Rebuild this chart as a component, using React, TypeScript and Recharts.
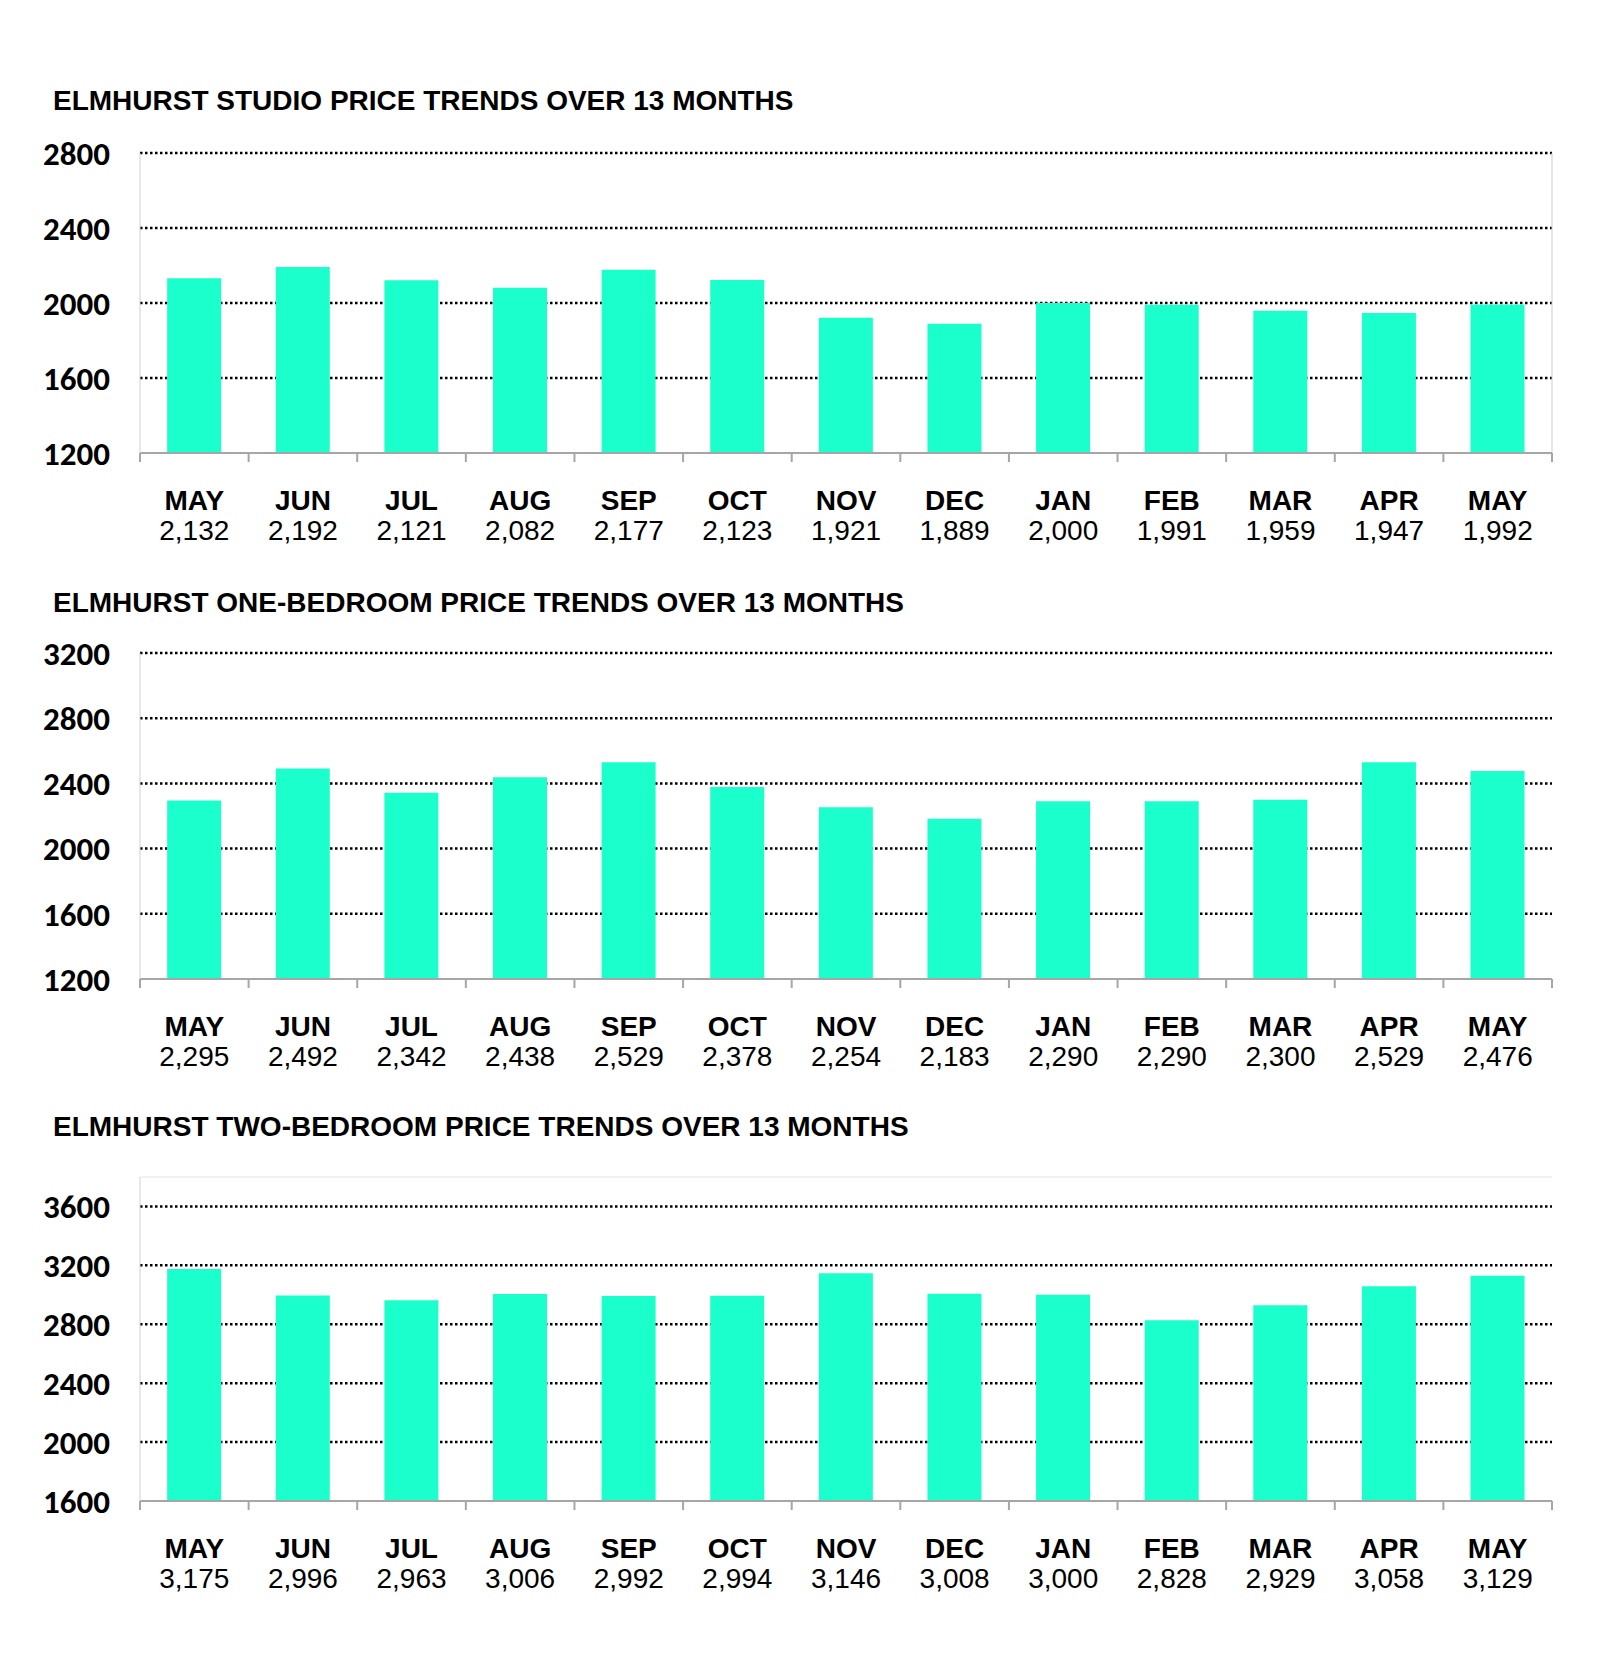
import React from "react";
import { BarChart, Bar, XAxis, YAxis, CartesianGrid, ReferenceLine } from "recharts";

const MONTHS = ["MAY", "JUN", "JUL", "AUG", "SEP", "OCT", "NOV", "DEC", "JAN", "FEB", "MAR", "APR", "MAY"];

const STUDIO = [2132, 2192, 2121, 2082, 2177, 2123, 1921, 1889, 2000, 1991, 1959, 1947, 1992];
const ONE_BED = [2295, 2492, 2342, 2438, 2529, 2378, 2254, 2183, 2290, 2290, 2300, 2529, 2476];
const TWO_BED = [3175, 2996, 2963, 3006, 2992, 2994, 3146, 3008, 3000, 2828, 2929, 3058, 3129];

const STUDIO_TICKS = [1200, 1600, 2000, 2400, 2800];
const ONE_BED_TICKS = [1200, 1600, 2000, 2400, 2800, 3200];
const TWO_BED_TICKS = [1600, 2000, 2400, 2800, 3200, 3600];

// category boundaries 0..13, used only for the little tick marks under the axis
const BOUNDARIES = Array.from({ length: MONTHS.length + 1 }, (_, i) => i);

const BAR_COLOR = "#1affcc";
const TITLE_FONT = "'Liberation Sans', Arial, sans-serif";
const NUM_FONT = "Carlito, Lato, sans-serif";

const MARGIN_TOP = 30;
const AXIS_HEIGHT = 100;

function MonthTick({ x, y, index, values }: any) {
  return (
    <g>
      <text x={x} y={y + 46} dy="0.36em" textAnchor="middle" fontFamily={TITLE_FONT} fontWeight={700} fontSize={28} fill="#000">
        {MONTHS[index]}
      </text>
      <text x={x} y={y + 76} dy="0.36em" textAnchor="middle" fontFamily={TITLE_FONT} fontSize={28} fill="#000">
        {values[index].toLocaleString("en-US")}
      </text>
    </g>
  );
}

function PriceChart({
  title,
  titleY,
  values,
  ticks,
  domain,
  plotTop,
  plotBottom,
  rightBorder,
  topBorder,
}: {
  title: string;
  titleY: number;
  values: number[];
  ticks: number[];
  domain: [number, number];
  plotTop: number;
  plotBottom: number;
  rightBorder?: boolean;
  topBorder?: boolean;
}) {
  const data = values.map((v, i) => ({ key: `${MONTHS[i]}-${i}`, pos: i + 0.5, value: v }));
  const height = plotBottom - plotTop + MARGIN_TOP + AXIS_HEIGHT;
  return (
    <>
      <div
        style={{
          position: "absolute",
          left: 53,
          top: titleY - 14,
          fontFamily: TITLE_FONT,
          fontWeight: 700,
          fontSize: 28,
          lineHeight: "28px",
          whiteSpace: "nowrap",
          color: "#000",
        }}
      >
        {title}
      </div>
      <div style={{ position: "absolute", left: 0, top: plotTop - MARGIN_TOP }}>
        <BarChart width={1600} height={height} data={data} margin={{ top: MARGIN_TOP, right: 48, left: 0, bottom: 0 }} barCategoryGap="25%">
          <CartesianGrid
            xAxisId="months"
            vertical={false}
            horizontalValues={ticks.slice(1)}
            stroke="#000"
            strokeWidth={2.5}
            strokeDasharray="2.5 2.5"
          />
          <XAxis
            xAxisId="edges"
            dataKey="pos"
            type="number"
            scale="linear"
            domain={[0, MONTHS.length]}
            allowDataOverflow
            ticks={BOUNDARIES}
            interval={0}
            tickFormatter={() => ""}
            tickSize={9}
            tickLine={{ stroke: "#a6a6a6", strokeWidth: 2 }}
            axisLine={{ stroke: "#a6a6a6", strokeWidth: 2 }}
            height={1}
          />
          <XAxis
            xAxisId="months"
            dataKey="key"
            axisLine={false}
            tickLine={false}
            tickSize={0}
            tickMargin={0}
            interval={0}
            height={AXIS_HEIGHT - 1}
            tick={<MonthTick values={values} />}
          />
          <YAxis
            width={140}
            domain={domain}
            ticks={ticks}
            allowDataOverflow
            interval={0}
            tickLine={false}
            tickSize={0}
            tickMargin={30}
            axisLine={{ stroke: "#d0d0d0", strokeWidth: 1 }}
            tick={{ fontFamily: NUM_FONT, fontWeight: 700, fontSize: 33, fill: "#000" }}
          />
          {rightBorder && <ReferenceLine xAxisId="edges" x={MONTHS.length} stroke="#cfcfcf" strokeWidth={1} />}
          {topBorder && <ReferenceLine xAxisId="months" y={domain[1]} stroke="#e6e6e6" strokeWidth={1} />}
          <Bar xAxisId="months" dataKey="value" fill={BAR_COLOR} isAnimationActive={false} />
        </BarChart>
      </div>
    </>
  );
}

export default function App() {
  return (
    <div style={{ position: "absolute", left: 0, top: 0, width: 1600, height: 1674, background: "#fff" }}>
      <PriceChart
        title="ELMHURST STUDIO PRICE TRENDS OVER 13 MONTHS"
        titleY={101}
        values={STUDIO}
        ticks={STUDIO_TICKS}
        domain={[1200, 2800]}
        plotTop={153}
        plotBottom={453}
        rightBorder
      />
      <PriceChart
        title="ELMHURST ONE-BEDROOM PRICE TRENDS OVER 13 MONTHS"
        titleY={603}
        values={ONE_BED}
        ticks={ONE_BED_TICKS}
        domain={[1200, 3200]}
        plotTop={653}
        plotBottom={979}
      />
      <PriceChart
        title="ELMHURST TWO-BEDROOM PRICE TRENDS OVER 13 MONTHS"
        titleY={1127}
        values={TWO_BED}
        ticks={TWO_BED_TICKS}
        domain={[1600, 3800]}
        plotTop={1177}
        plotBottom={1501}
        topBorder
      />
    </div>
  );
}
